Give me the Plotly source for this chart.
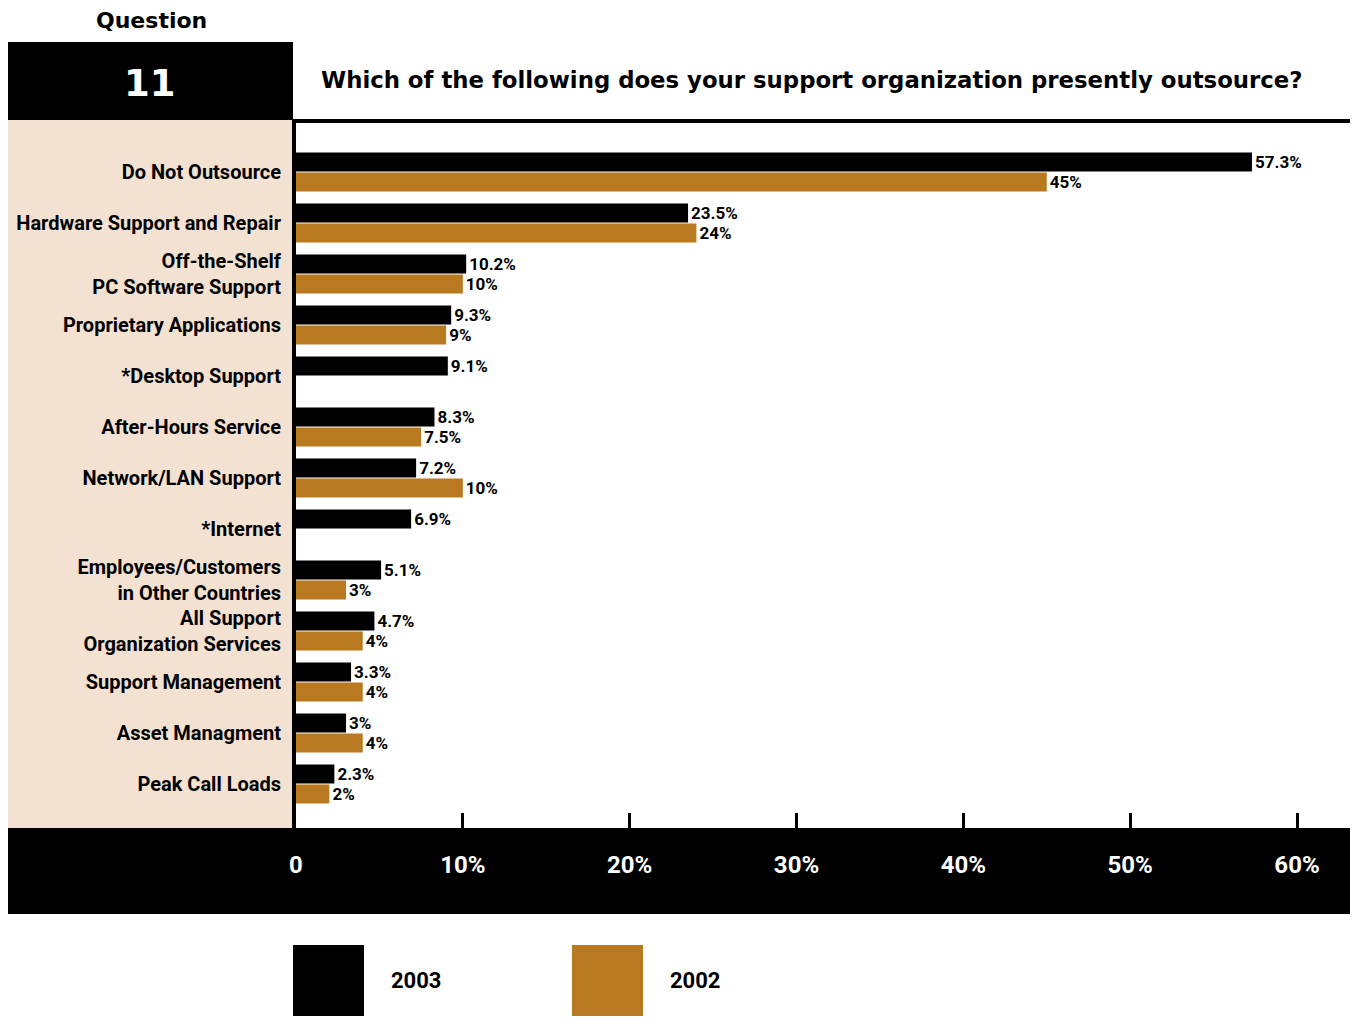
import plotly.graph_objects as go

# Survey categories (top to bottom) and outsourcing shares in percent
categories = [
    "Do Not Outsource",
    "Hardware Support and Repair",
    "Off-the-Shelf<br>PC Software Support",
    "Proprietary Applications",
    "*Desktop Support",
    "After-Hours Service",
    "Network/LAN Support",
    "*Internet",
    "Employees/Customers<br>in Other Countries",
    "All Support<br>Organization Services",
    "Support Management",
    "Asset Managment",
    "Peak Call Loads",
]
values_2003 = [57.3, 23.5, 10.2, 9.3, 9.1, 8.3, 7.2, 6.9, 5.1, 4.7, 3.3, 3, 2.3]
values_2002 = [45, 24, 10, 9, None, 7.5, 10, None, 3, 4, 4, 4, 2]
x_ticks = [0, 10, 20, 30, 40, 50, 60]
x_tick_labels = ["0", "10%", "20%", "30%", "40%", "50%", "60%"]

BLACK = "#000000"
ORANGE = "#B97920"
BEIGE = "#F3E2D2"
NARROW = "Roboto, Liberation Sans, sans-serif"
TITLE_FONT = "DejaVu Sans"

W, H = 1354, 1024


def px(x):
    return x / W


def py(y):
    return 1 - y / H


def pct(v):
    return "" if v is None else f"{v:g}%"


def narrow(size, color=BLACK):
    return dict(family=NARROW, size=size, color=color, weight="bold")


fig = go.Figure()
fig.add_trace(go.Bar(
    y=categories, x=values_2003, orientation="h", name="2003",
    marker=dict(color=BLACK, line=dict(width=0)),
    text=[pct(v) for v in values_2003], textposition="outside",
    textfont=narrow(17),
    constraintext="none", cliponaxis=False, showlegend=False,
))
fig.add_trace(go.Bar(
    y=categories, x=values_2002, orientation="h", name="2002",
    marker=dict(color=ORANGE, line=dict(width=0)),
    text=[pct(v) for v in values_2002], textposition="outside",
    textfont=narrow(17),
    constraintext="none", cliponaxis=False, showlegend=False,
))

# Category slot of 51 px, first group centred at y=172, plot spans y=123..828
top_px, bot_px = 123, 828
r_top = (top_px - 172) / 51
r_bot = (bot_px - 172) / 51

shapes = [
    # question number box
    dict(type="rect", xref="paper", yref="paper", x0=px(8), x1=px(293), y0=py(120), y1=py(42),
         fillcolor=BLACK, line=dict(width=0), layer="below"),
    # label panel
    dict(type="rect", xref="paper", yref="paper", x0=px(8), x1=px(292), y0=py(828), y1=py(120),
         fillcolor=BEIGE, line=dict(width=0), layer="below"),
    # rule under the question
    dict(type="rect", xref="paper", yref="paper", x0=px(292), x1=px(1350), y0=py(123), y1=py(119),
         fillcolor=BLACK, line=dict(width=0), layer="below"),
    # value axis base line
    dict(type="rect", xref="paper", yref="paper", x0=px(292), x1=px(296), y0=py(828), y1=py(119),
         fillcolor=BLACK, line=dict(width=0), layer="below"),
    # band holding the tick labels
    dict(type="rect", xref="paper", yref="paper", x0=px(8), x1=px(1350), y0=py(914), y1=py(828),
         fillcolor=BLACK, line=dict(width=0), layer="below"),
    # legend swatches
    dict(type="rect", xref="paper", yref="paper", x0=px(293), x1=px(364), y0=py(1016), y1=py(945),
         fillcolor=BLACK, line=dict(width=0), layer="below"),
    dict(type="rect", xref="paper", yref="paper", x0=px(572), x1=px(643), y0=py(1016), y1=py(945),
         fillcolor=ORANGE, line=dict(width=0), layer="below"),
]

annotations = [
    dict(text="Question", x=px(151), y=py(20), xref="paper", yref="paper", showarrow=False,
         font=dict(family=TITLE_FONT, size=22, color=BLACK, weight="bold"), xanchor="center", yanchor="middle"),
    dict(text="11", x=px(150), y=py(83), xref="paper", yref="paper", showarrow=False,
         font=dict(family=TITLE_FONT, size=37, color="white", weight="bold"), xanchor="center", yanchor="middle"),
    dict(text="Which of the following does your support organization presently outsource?",
         x=px(319), y=py(80), xref="paper", yref="paper", showarrow=False,
         font=dict(family=TITLE_FONT, size=22.8, color=BLACK, weight="bold"), xanchor="left", yanchor="middle"),
    dict(text="2003", x=px(389), y=py(980), xref="paper", yref="paper", showarrow=False,
         font=narrow(22), xanchor="left", yanchor="middle"),
    dict(text="2002", x=px(668), y=py(980), xref="paper", yref="paper", showarrow=False,
         font=narrow(22), xanchor="left", yanchor="middle"),
]

x_max = 60 * (1350 - 296) / (1297 - 296)

fig.update_layout(
    width=W, height=H,
    margin=dict(l=0, r=0, t=0, b=0, autoexpand=False),
    paper_bgcolor="white", plot_bgcolor="rgba(0,0,0,0)",
    barmode="group", bargap=0.216, bargroupgap=0.05,
    shapes=shapes, annotations=annotations,
    xaxis=dict(
        domain=[px(296), px(1350)], range=[0, x_max], automargin=False,
        tickvals=x_ticks, ticktext=x_tick_labels,
        ticks="inside", ticklen=15, tickwidth=2.5, tickcolor=BLACK,
        showgrid=False, zeroline=False, showline=False,
        tickfont=narrow(24, "white"),
        ticklabelstandoff=20, fixedrange=True,
    ),
    yaxis=dict(
        domain=[py(bot_px), py(top_px)], range=[r_bot, r_top], automargin=False,
        type="category", showgrid=False, zeroline=False, showline=False,
        ticks="", ticklabelstandoff=14,
        tickfont=narrow(20),
        fixedrange=True,
    ),
)

fig.write_html("out.html")
